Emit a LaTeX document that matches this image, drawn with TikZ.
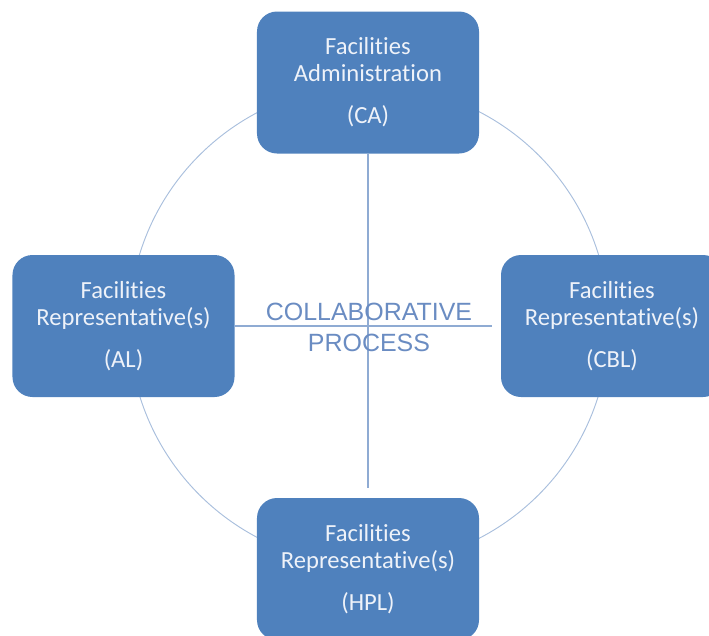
\documentclass[tikz,border=0pt]{standalone}
\usepackage{fontspec}
\setmainfont{Carlito}[Ligatures=NoCommon]
\newfontfamily\arialfont{Liberation Sans}
\usepackage{tikz}
\usetikzlibrary{positioning}
\definecolor{boxBlue}{HTML}{4F81BD}
\definecolor{boxText}{HTML}{EEF2F9}
\definecolor{ringBlue}{HTML}{A9BFDD}
\definecolor{spokeBlue}{HTML}{8FABD3}
\definecolor{hubText}{HTML}{6A8CC2}
\tikzset{box/.style={rectangle, rounded corners=0.6cm, fill=boxBlue, text=boxText,
  inner sep=0pt, minimum width=6.66cm, minimum height=4.26cm, align=center,
  font=\fontsize{21pt}{23pt}\selectfont}}
\tikzset{ring/.style={draw, ringBlue, line width=0.8pt}}
\tikzset{spoke/.style={draw, spokeBlue, line width=1.1pt}}

\begin{document}
\begin{tikzpicture}[x=0.03cm,y=-0.03cm]
        \useasboundingbox (0,0) rectangle (709,635);
        \clip (0,0) rectangle (709,635);
        %% ring behind the boxes
        \coordinate (hub) at (369,325);
        \draw [ring] (hub) circle (240);
        %% the four parties
        \node (ca) at (368,82.5) [box] {Facilities\\Administration\\[13pt](CA)};
        \node (al) at (123.5,326) [box] {Facilities\\Representative(s)\\[13pt](AL)};
        \node (cbl) at (612,326) [box] {Facilities\\Representative(s)\\[13pt](CBL)};
        \node (hpl) at (368,569) [box] {Facilities\\Representative(s)\\[13pt](HPL)};
        %% cross
        \draw [spoke, shorten >=0.3cm] (ca) to (hpl);
        \draw [spoke, shorten >=0.27cm] (al) to (cbl);
        \node (collab) at (369,327.5) [text=hubText, align=center,
          font=\arialfont\fontsize{21.3pt}{26.5pt}\selectfont] {COLLABORATIVE\\PROCESS};
\end{tikzpicture}
\end{document}
